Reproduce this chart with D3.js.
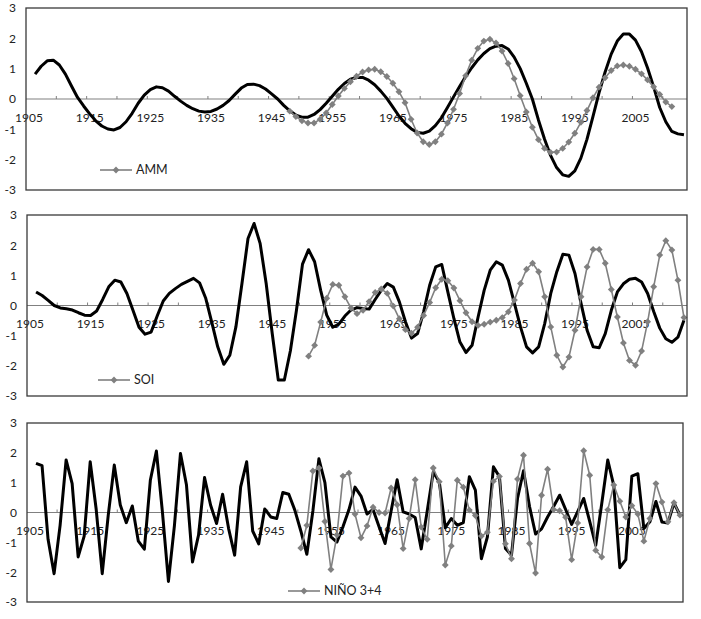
<!DOCTYPE html>
<html>
<head>
<meta charset="utf-8">
<script src="https://cdn.jsdelivr.net/npm/d3@7"></script>
<style>
  body { margin: 0; background: #fff; }
  svg { display: block; font-family: Lato, "Open Sans", sans-serif; }
</style>
</head>
<body>
<svg id="chart" width="701" height="619"></svg>
<script>
// category axis, one slot per year
const years = d3.range(1905, 2014);
const yearLabels = [1905, 1915, 1925, 1935, 1945, 1955, 1965, 1975, 1985, 1995, 2005];
const yTicks = [-3, -2, -1, 0, 1, 2, 3];

// black curves start in 1906
const blackStart = 1906;

const ammBlack = [
  0.82, 1.08, 1.26, 1.28, 1.12, 0.82, 0.43, 0.05, -0.23, -0.49,
  -0.72, -0.89, -0.99, -1.02, -0.94, -0.75, -0.47, -0.14, 0.13, 0.31,
  0.40, 0.37, 0.26, 0.09, -0.07, -0.21, -0.32, -0.40, -0.43, -0.41,
  -0.33, -0.21, -0.05, 0.16, 0.36, 0.48, 0.49, 0.44, 0.33, 0.17,
  0.00, -0.21, -0.39, -0.53, -0.60, -0.60, -0.51, -0.35, -0.14, 0.09,
  0.32, 0.51, 0.65, 0.71, 0.71, 0.62, 0.47, 0.26, 0.02, -0.27,
  -0.56, -0.80, -0.98, -1.10, -1.13, -1.06, -0.88, -0.62, -0.28, 0.07,
  0.41, 0.74, 1.03, 1.29, 1.50, 1.66, 1.74, 1.76, 1.65, 1.38,
  1.00, 0.52, 0.00, -0.69, -1.32, -1.86, -2.26, -2.50, -2.55, -2.37,
  -1.95, -1.33, -0.57, 0.21, 0.89, 1.48, 1.91, 2.14, 2.14, 1.94,
  1.56, 1.02, 0.40, -0.28, -0.75, -1.07, -1.15, -1.18
];

const soiBlack = [
  0.45, 0.33, 0.17, 0.00, -0.08, -0.11, -0.15, -0.24, -0.32, -0.33,
  -0.18, 0.20, 0.62, 0.84, 0.78, 0.40, -0.16, -0.72, -0.95, -0.88,
  -0.35, 0.15, 0.40, 0.56, 0.70, 0.80, 0.90, 0.75, 0.25, -0.54,
  -1.37, -1.95, -1.65, -0.71, 0.73, 2.22, 2.72, 2.06, 0.73, -0.93,
  -2.47, -2.47, -1.50, -0.16, 1.37, 1.85, 1.45, 0.50, -0.32, -0.72,
  -0.62, -0.35, -0.15, -0.07, -0.10, -0.12, 0.20, 0.50, 0.73, 0.61,
  0.12, -0.54, -1.08, -0.93, -0.21, 0.67, 1.28, 1.36, 0.45, -0.43,
  -1.21, -1.56, -1.32, -0.38, 0.50, 1.17, 1.45, 1.34, 0.84, 0.07,
  -0.71, -1.37, -1.57, -1.37, -0.60, 0.40, 1.12, 1.70, 1.67, 1.06,
  0.07, -0.82, -1.37, -1.40, -0.93, -0.16, 0.45, 0.72, 0.87, 0.90,
  0.78, 0.40, -0.20, -0.75, -1.10, -1.22, -1.05, -0.49
];

const ninoBlack = [
  1.65, 1.57, -0.90, -2.05, -0.43, 1.76, 0.97, -1.49, -0.79, 1.70,
  0.10, -2.05, -0.09, 1.59, 0.25, -0.34, 0.22, -0.96, -1.23, 1.09,
  2.06, 0.02, -2.31, -0.43, 1.98, 0.92, -1.66, -0.76, 1.17, 0.25,
  -0.37, 0.61, -0.54, -1.43, 0.86, 1.70, -0.62, -1.05, 0.12, -0.15,
  -0.20, 0.67, 0.61, 0.08, -0.62, -1.40, 0.05, 1.80, 1.00, -0.82,
  -0.99, -0.48, 0.10, 0.85, 0.55, -0.05, 0.10, -0.48, -1.04, 0.05,
  1.10, 0.02, -0.05, -0.17, -1.22, 0.05, 1.35, 1.03, -0.51, -0.20,
  -0.43, -0.34, 1.20, 0.75, -1.55, -0.82, 1.53, 1.20, -1.21, -1.43,
  0.47, 1.40, 0.20, -0.72, -0.55, -0.15, 0.20, 0.58, 0.10, -0.40,
  0.03, 0.47, -0.30, -1.10, 0.30, 1.76, 0.90, -1.85, -1.58, 1.22,
  1.30, -0.54, -0.31, 0.37, -0.32, -0.35, 0.32, -0.09
];

// grey series with markers
const ammGrayStart = 1948;
const ammGray = [
  -0.40, -0.58, -0.72, -0.79, -0.79, -0.67, -0.46, -0.18, 0.10, 0.35,
  0.57, 0.75, 0.89, 0.96, 0.98, 0.90, 0.74, 0.52, 0.24, -0.12,
  -0.67, -1.12, -1.41, -1.50, -1.41, -1.16, -0.79, -0.34, 0.18, 0.77,
  1.28, 1.67, 1.91, 1.97, 1.85, 1.58, 1.17, 0.67, 0.11, -0.43,
  -0.93, -1.34, -1.63, -1.76, -1.75, -1.63, -1.42, -1.13, -0.77, -0.38,
  0.04, 0.39, 0.70, 0.94, 1.09, 1.12, 1.08, 0.98, 0.83, 0.63,
  0.40, 0.15, -0.10, -0.25
];

const soiGrayStart = 1951;
const soiGray = [
  -1.68, -1.32, -0.55, 0.24, 0.70, 0.67, 0.29, -0.08, -0.27, -0.16,
  0.13, 0.43, 0.55, 0.40, -0.02, -0.44, -0.80, -0.92, -0.72, -0.33,
  0.10, 0.59, 0.87, 0.82, 0.58, 0.16, -0.24, -0.54, -0.66, -0.62,
  -0.55, -0.49, -0.40, -0.21, 0.18, 0.73, 1.20, 1.40, 1.12, 0.29,
  -0.71, -1.65, -2.04, -1.71, -0.82, 0.29, 1.28, 1.86, 1.86, 1.40,
  0.53, -0.38, -1.24, -1.82, -1.98, -1.51, -0.54, 0.62, 1.67, 2.15,
  1.84, 0.84, -0.40
];

const ninoGrayStart = 1950;
const ninoGray = [
  -1.19, -0.43, 1.39, 1.49, -0.30, -1.91, -0.75, 1.22, 1.32, -0.05,
  -0.85, -0.45, 0.18, 0.00, -0.02, 0.82, 0.26, -1.21, -0.20, 1.10,
  -0.49, -0.90, 1.49, 1.03, -1.76, -1.12, 1.08, 0.85, 0.08, -0.10,
  -0.79, -0.66, 1.05, 1.21, -1.05, -1.55, 1.12, 1.92, -1.04, -2.03,
  0.58, 1.45, 0.10, 0.06, -0.16, -1.58, -0.35, 2.07, 1.25, -1.27,
  -1.49, 0.09, 0.92, 0.38, -0.15, 0.23, -0.05, -0.96, -0.20, 0.97,
  0.35, -0.31, 0.33, -0.09
];

const gray = "#808080";

const panels = [
  { name: "AMM", black: ammBlack, gray: ammGray, grayStart: ammGrayStart,
    box: { l: 26, r: 687, t: 8, b: 190 }, legend: { x: 100, y: 170 } },
  { name: "SOI", black: soiBlack, gray: soiGray, grayStart: soiGrayStart,
    box: { l: 27, r: 687, t: 215, b: 396 }, legend: { x: 98, y: 380 } },
  { name: "NIÑO 3+4", black: ninoBlack, gray: ninoGray, grayStart: ninoGrayStart,
    box: { l: 27, r: 683, t: 423, b: 602 }, legend: { x: 288, y: 591 } }
];

const svg = d3.select("#chart");
const diamond = d3.symbol().type(d3.symbolDiamond2 || d3.symbolDiamond).size(30);

const toPoints = (values, start) => values.map((v, i) => ({ year: start + i, value: v }));

panels.forEach((p) => {
  const b = p.box;
  const x = d3.scaleBand().domain(years).range([b.l, b.r]).padding(0);
  const y = d3.scaleLinear().domain([-3, 3]).range([b.b, b.t]);
  const cx = (d) => x(d.year) + x.bandwidth() / 2;

  const g = svg.append("g");

  // y labels, plain hyphen like Excel
  g.append("g")
    .attr("transform", `translate(${b.l - 10},0)`)
    .call(d3.axisLeft(y).tickValues(yTicks).tickFormat((d) => String(d)).tickSize(0).tickPadding(0))
    .call((a) => a.select(".domain").remove())
    .selectAll("text")
    .attr("font-size", 12)
    .attr("font-family", "Lato, sans-serif")
    .attr("fill", "#222");

  // zero line with small tick marks every 5 years
  g.append("line")
    .attr("x1", b.l).attr("x2", b.r)
    .attr("y1", y(0)).attr("y2", y(0))
    .attr("stroke", gray).attr("stroke-width", 1.2);

  g.selectAll(".tick5")
    .data(years.filter((yr) => (yr - 1905) % 5 === 0 && yr > 1905))
    .join("line")
    .attr("x1", (yr) => x(yr)).attr("x2", (yr) => x(yr))
    .attr("y1", y(0) - 3).attr("y2", y(0))
    .attr("stroke", gray).attr("stroke-width", 1);

  g.append("g")
    .attr("transform", `translate(0,${y(0)})`)
    .call(d3.axisBottom(x).tickValues(yearLabels).tickFormat((d) => String(d)).tickSize(0).tickPadding(14))
    .call((a) => a.select(".domain").remove())
    .selectAll("text")
    .attr("font-size", 12)
    .attr("font-family", "Lato, sans-serif")
    .attr("fill", "#222");

  const line = d3.line().x(cx).y((d) => y(d.value));

  g.append("path")
    .datum(toPoints(p.black, blackStart))
    .attr("fill", "none")
    .attr("stroke", "#000")
    .attr("stroke-width", 3)
    .attr("stroke-linejoin", "round")
    .attr("d", line);

  const grayPts = toPoints(p.gray, p.grayStart);
  g.append("path")
    .datum(grayPts)
    .attr("fill", "none")
    .attr("stroke", gray)
    .attr("stroke-width", 1.6)
    .attr("d", line);

  g.selectAll(".mk")
    .data(grayPts)
    .join("path")
    .attr("transform", (d) => `translate(${cx(d)},${y(d.value)})`)
    .attr("d", diamond)
    .attr("fill", gray);

  // plot frame
  g.append("rect")
    .attr("x", b.l).attr("y", b.t)
    .attr("width", b.r - b.l).attr("height", b.b - b.t)
    .attr("fill", "none")
    .attr("stroke", "#3a3a3a")
    .attr("stroke-width", 1.3);

  // legend
  const lg = g.append("g").attr("transform", `translate(${p.legend.x},${p.legend.y})`);
  lg.append("line").attr("x1", 0).attr("x2", 32).attr("stroke", gray).attr("stroke-width", 1.6);
  lg.append("path").attr("transform", "translate(16,0)").attr("d", diamond).attr("fill", gray);
  lg.append("text")
    .attr("x", 36).attr("dy", "0.35em")
    .attr("font-size", 12.5)
    .attr("fill", "#222")
    .text(p.name);
});
</script>
</body>
</html>
